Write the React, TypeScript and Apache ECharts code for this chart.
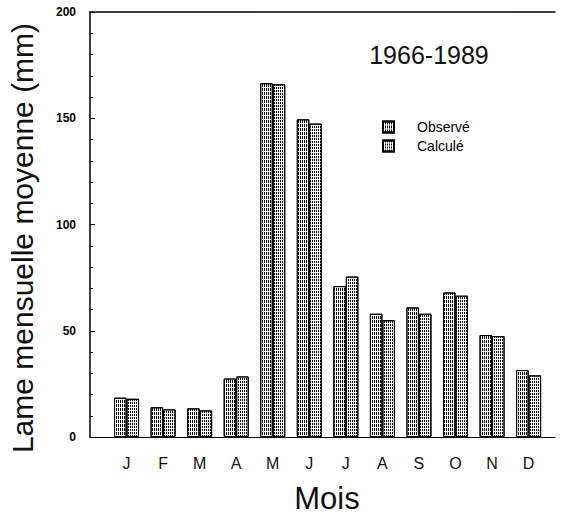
import React, { useEffect, useRef } from "react";
import * as echarts from "echarts";

const months = ["J", "F", "M", "A", "M", "J", "J", "A", "S", "O", "N", "D"];
const observed = [18.5, 14, 13.5, 27.5, 166.5, 149.5, 71, 58, 61, 68, 48, 31.5];
const calculated = [18, 13, 12.5, 28.5, 166, 147.5, 75.5, 55, 58, 66.5, 47.5, 29];
const yTicks = [0, 50, 100, 150, 200];
const periodLabel = "1966-1989";
const yTitle = "Lame mensuelle moyenne (mm)";
const xTitle = "Mois";

export default function App() {
  const ref = useRef<HTMLDivElement>(null);
  useEffect(() => {
    if (!ref.current) return;
    const chart = echarts.init(ref.current, null, { renderer: "svg" });
    const font = "'Liberation Sans', Arial, Helvetica, sans-serif";
    const xMax = 465 / 36.55;
    chart.setOption({
      animation: false,
      backgroundColor: "#fff",
      textStyle: { fontFamily: font, color: "#000" },
      grid: { left: 90, top: 12, width: 465, height: 425, containLabel: false },
      xAxis: [
        {
          type: "value",
          min: 0,
          max: xMax,
          interval: 1,
          axisLine: { show: true, lineStyle: { color: "#000", width: 1.2 } },
          axisTick: { show: false },
          splitLine: { show: false },
          axisLabel: {
            margin: 18,
            fontSize: 16,
            color: "#111",
            fontFamily: font,
            formatter: (v: number) => {
              const i = Math.round(v);
              if (Math.abs(v - i) > 1e-6 || i < 1 || i > 12) return "";
              return months[i - 1];
            },
          },
        },
        {
          type: "value",
          position: "top",
          min: 0,
          max: xMax,
          axisLine: { show: true, onZero: false, lineStyle: { color: "#000", width: 1.5 } },
          axisTick: { show: false },
          axisLabel: { show: false },
          splitLine: { show: false },
        },
      ],
      yAxis: {
        type: "value",
        min: yTicks[0],
        max: yTicks[yTicks.length - 1],
        interval: 50,
        axisLine: { show: true, lineStyle: { color: "#000", width: 1.5 } },
        axisTick: { show: true, inside: true, length: 5, lineStyle: { color: "#000" } },
        minorTick: { show: true, splitNumber: 5, length: 3, lineStyle: { color: "#000" } },
        splitLine: { show: false },
        axisLabel: {
          margin: 14,
          fontSize: 12,
          fontWeight: "bold",
          color: "#000",
          fontFamily: font,
        },
      },
      legend: {
        orient: "vertical",
        left: 382,
        top: 120,
        padding: 0,
        itemWidth: 11,
        itemHeight: 11,
        itemGap: 5,
        icon: "rect",
        textStyle: { fontSize: 14, color: "#000", fontFamily: font, padding: [0, 0, 0, 18] },
        data: ["Observé", "Calculé"],
      },
      series: [
        {
          name: "Observé",
          type: "bar",
          barWidth: 12.5,
          barGap: "0%",
          data: observed.map((v, i) => [i + 1, v]),
          itemStyle: {
            color: "#fff",
            borderColor: "#000",
            borderWidth: 1,
            decal: {
              symbol: "rect",
              symbolSize: 1,
              dashArrayX: [1, 1],
              dashArrayY: [3, 1],
              color: "#000",
              backgroundColor: "#fff",
            },
          },
        },
        {
          name: "Calculé",
          type: "bar",
          barWidth: 12.5,
          barGap: "0%",
          data: calculated.map((v, i) => [i + 1, v]),
          itemStyle: {
            color: "#fff",
            borderColor: "#000",
            borderWidth: 1,
            decal: {
              symbol: "rect",
              symbolSize: 1,
              dashArrayX: [1, 1],
              dashArrayY: [2, 1],
              color: "#000",
              backgroundColor: "#fff",
            },
          },
        },
      ],
      graphic: [
        {
          type: "text",
          x: 22,
          y: 238,
          rotation: Math.PI / 2,
          style: {
            text: yTitle,
            fontSize: 30,
            fontFamily: font,
            fill: "#111",
            align: "center",
            verticalAlign: "middle",
          },
        },
        {
          type: "text",
          x: 327,
          y: 498,
          style: {
            text: xTitle,
            fontSize: 31,
            fontFamily: font,
            fill: "#111",
            align: "center",
            verticalAlign: "middle",
          },
        },
        {
          type: "text",
          x: 429,
          y: 55,
          style: {
            text: periodLabel,
            fontSize: 25,
            fontFamily: font,
            fill: "#111",
            align: "center",
            verticalAlign: "middle",
          },
        },
      ],
    });
    return () => chart.dispose();
  }, []);
  return <div ref={ref} style={{ width: 562, height: 516, position: "absolute", left: 0, top: 0 }} />;
}
